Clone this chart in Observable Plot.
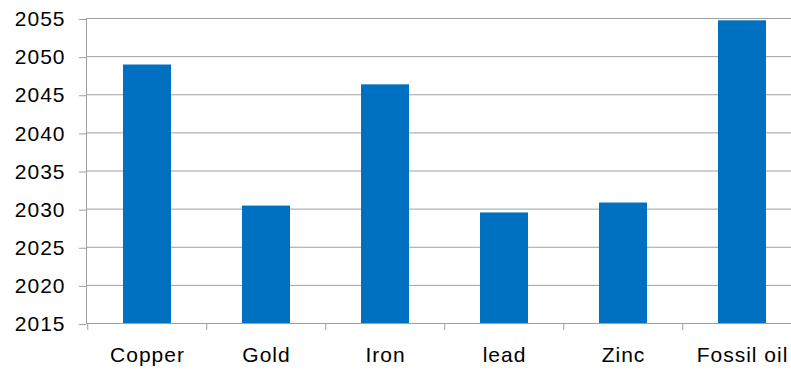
<!DOCTYPE html>
<html>
<head>
<meta charset="utf-8">
<script src="https://cdn.jsdelivr.net/npm/d3@7"></script>
<script src="https://cdn.jsdelivr.net/npm/@observablehq/plot@0.6"></script>
<style>
  html, body { margin: 0; padding: 0; background: #fff; }
  svg text { letter-spacing: 1px; }
</style>
</head>
<body>
<div id="chart"></div>
<script>
const categories = ["Copper", "Gold", "Iron", "lead", "Zinc", "Fossil oil"];
const years = [2048.9, 2030.4, 2046.3, 2029.5, 2030.8, 2054.7];
const yTicks = [2015, 2020, 2025, 2030, 2035, 2040, 2045, 2050, 2055];

const data = categories.map((c, i) => ({category: c, year: years[i]}));

const W = 791, H = 372;
const left = 86, step = 119.46;
const grid = "#a0a0a0";
const font = "Liberation Sans, Arial, sans-serif";

const chart = Plot.plot({
  width: W,
  height: H,
  marginLeft: left,
  marginRight: 0,
  marginTop: 18,
  marginBottom: 49,
  style: {fontFamily: font, fontSize: "21px", color: "#000", background: "#fff"},
  x: {type: "band", domain: categories, range: [left, left + step * categories.length], paddingInner: 0.6, paddingOuter: 0.3, axis: null, label: null},
  y: {domain: [2015, 2055], axis: null, label: null},
  marks: [
    Plot.ruleY(yTicks, {stroke: grid, strokeWidth: 1}),
    Plot.axisY(yTicks, {anchor: "left", label: null, tickFormat: "d", tickSize: 7, tickPadding: 14, stroke: grid, strokeOpacity: 1, fontSize: 21, dy: 1, fill: "#000"}),
    Plot.frame({anchor: "left", stroke: grid, strokeOpacity: 1}),
    Plot.axisX({anchor: "bottom", label: null, tickSize: 7, tickFormat: () => "", dx: -step / 2, stroke: grid, strokeOpacity: 1}),
    Plot.axisX({anchor: "bottom", label: null, tickSize: 0, tickPadding: 24, fontSize: 21, fill: "#000"}),
    Plot.barY(data, {x: "category", y1: () => 2015, y2: "year", fill: "#0070C0"})
  ]
});
document.getElementById("chart").appendChild(chart);
</script>
</body>
</html>
